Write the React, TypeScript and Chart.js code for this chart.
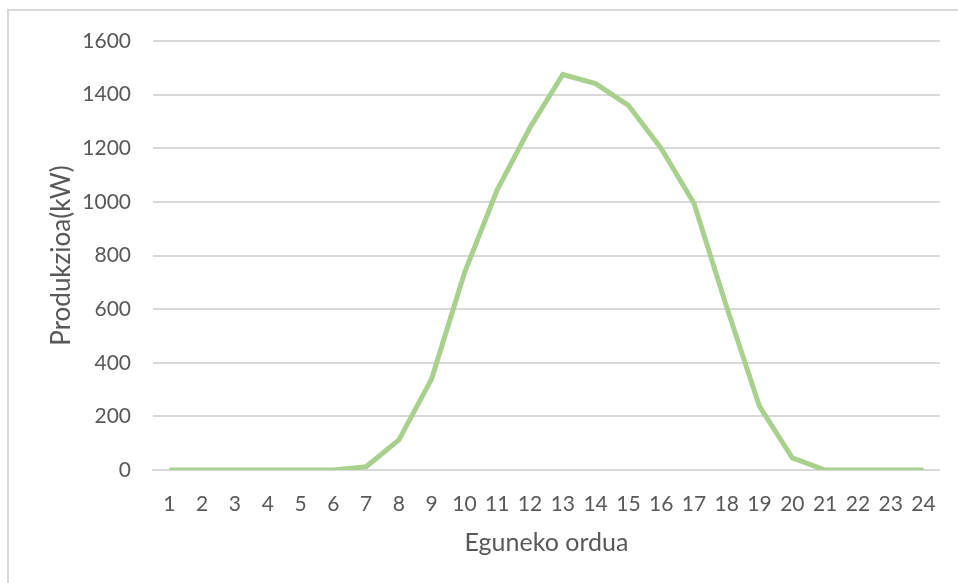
import React, { useEffect, useRef } from "react";
import { Chart, registerables } from "chart.js";

Chart.register(...registerables);

// Hour of day (1–24)
const hours: string[] = Array.from({ length: 24 }, (_, i) => String(i + 1));
// Production in kW for each hour
const production: number[] = [
  0, 0, 0, 0, 0, 0, 12, 112, 340, 735, 1045, 1277,
  1475, 1441, 1360, 1199, 995, 607, 237, 45, 0, 0, 0, 0,
];
const yMin = 0;
const yMax = 1600;
const yStep = 200;

const TEXT = "#595959";
const GRID = "#d9d9d9";
const LINE = "#a9d18e";
const FONT = "Lato, 'Open Sans', sans-serif";

export default function App() {
  const ref = useRef<HTMLCanvasElement | null>(null);

  useEffect(() => {
    if (!ref.current) return;
    const chart = new Chart(ref.current, {
      type: "line",
      data: {
        labels: hours,
        datasets: [
          {
            data: production,
            borderColor: LINE,
            backgroundColor: LINE,
            borderWidth: 5,
            pointRadius: 0,
            tension: 0,
          },
        ],
      },
      options: {
        animation: false,
        responsive: false,
        maintainAspectRatio: false,
        layout: { padding: { left: 0, top: 41, right: 18, bottom: 0 } },
        plugins: { legend: { display: false }, tooltip: { enabled: false } },
        scales: {
          x: {
            offset: true,
            grid: { display: false, drawTicks: false },
            border: { display: true, color: GRID, width: 2 },
            ticks: {
              color: TEXT,
              font: { family: FONT, size: 21 },
              padding: 22,
              maxRotation: 0,
              autoSkip: false,
            },
            title: {
              display: true,
              text: "Eguneko ordua",
              color: TEXT,
              font: { family: FONT, size: 25 },
              padding: { top: 0, bottom: 25 },
            },
            afterFit: (s: any) => {
              s.height = 113;
            },
          },
          y: {
            min: yMin,
            max: yMax,
            grid: { color: GRID, lineWidth: 2, drawTicks: false },
            border: { display: false },
            ticks: {
              stepSize: yStep,
              color: TEXT,
              font: { family: FONT, size: 21 },
              padding: 22,
              callback: (v: any) => String(v),
            },
            title: {
              display: true,
              text: "Produkzioa(kW)",
              color: TEXT,
              font: { family: FONT, size: 26 },
              padding: { top: 46, bottom: 0 },
            },
            afterFit: (s: any) => {
              s.width = 153;
            },
          },
        },
      },
    });
    return () => chart.destroy();
  }, []);

  return (
    <div
      style={{
        position: "fixed",
        left: 0,
        top: 0,
        width: 958,
        height: 583,
        overflow: "hidden",
        background: "#ffffff",
      }}
    >
      <div
        style={{
          position: "absolute",
          left: 7,
          top: 9,
          width: 1000,
          height: 1000,
          border: `2px solid ${GRID}`,
          boxSizing: "border-box",
        }}
      />
      <canvas
        ref={ref}
        width={958}
        height={583}
        style={{ position: "absolute", left: 0, top: 0, width: 958, height: 583 }}
      />
    </div>
  );
}
